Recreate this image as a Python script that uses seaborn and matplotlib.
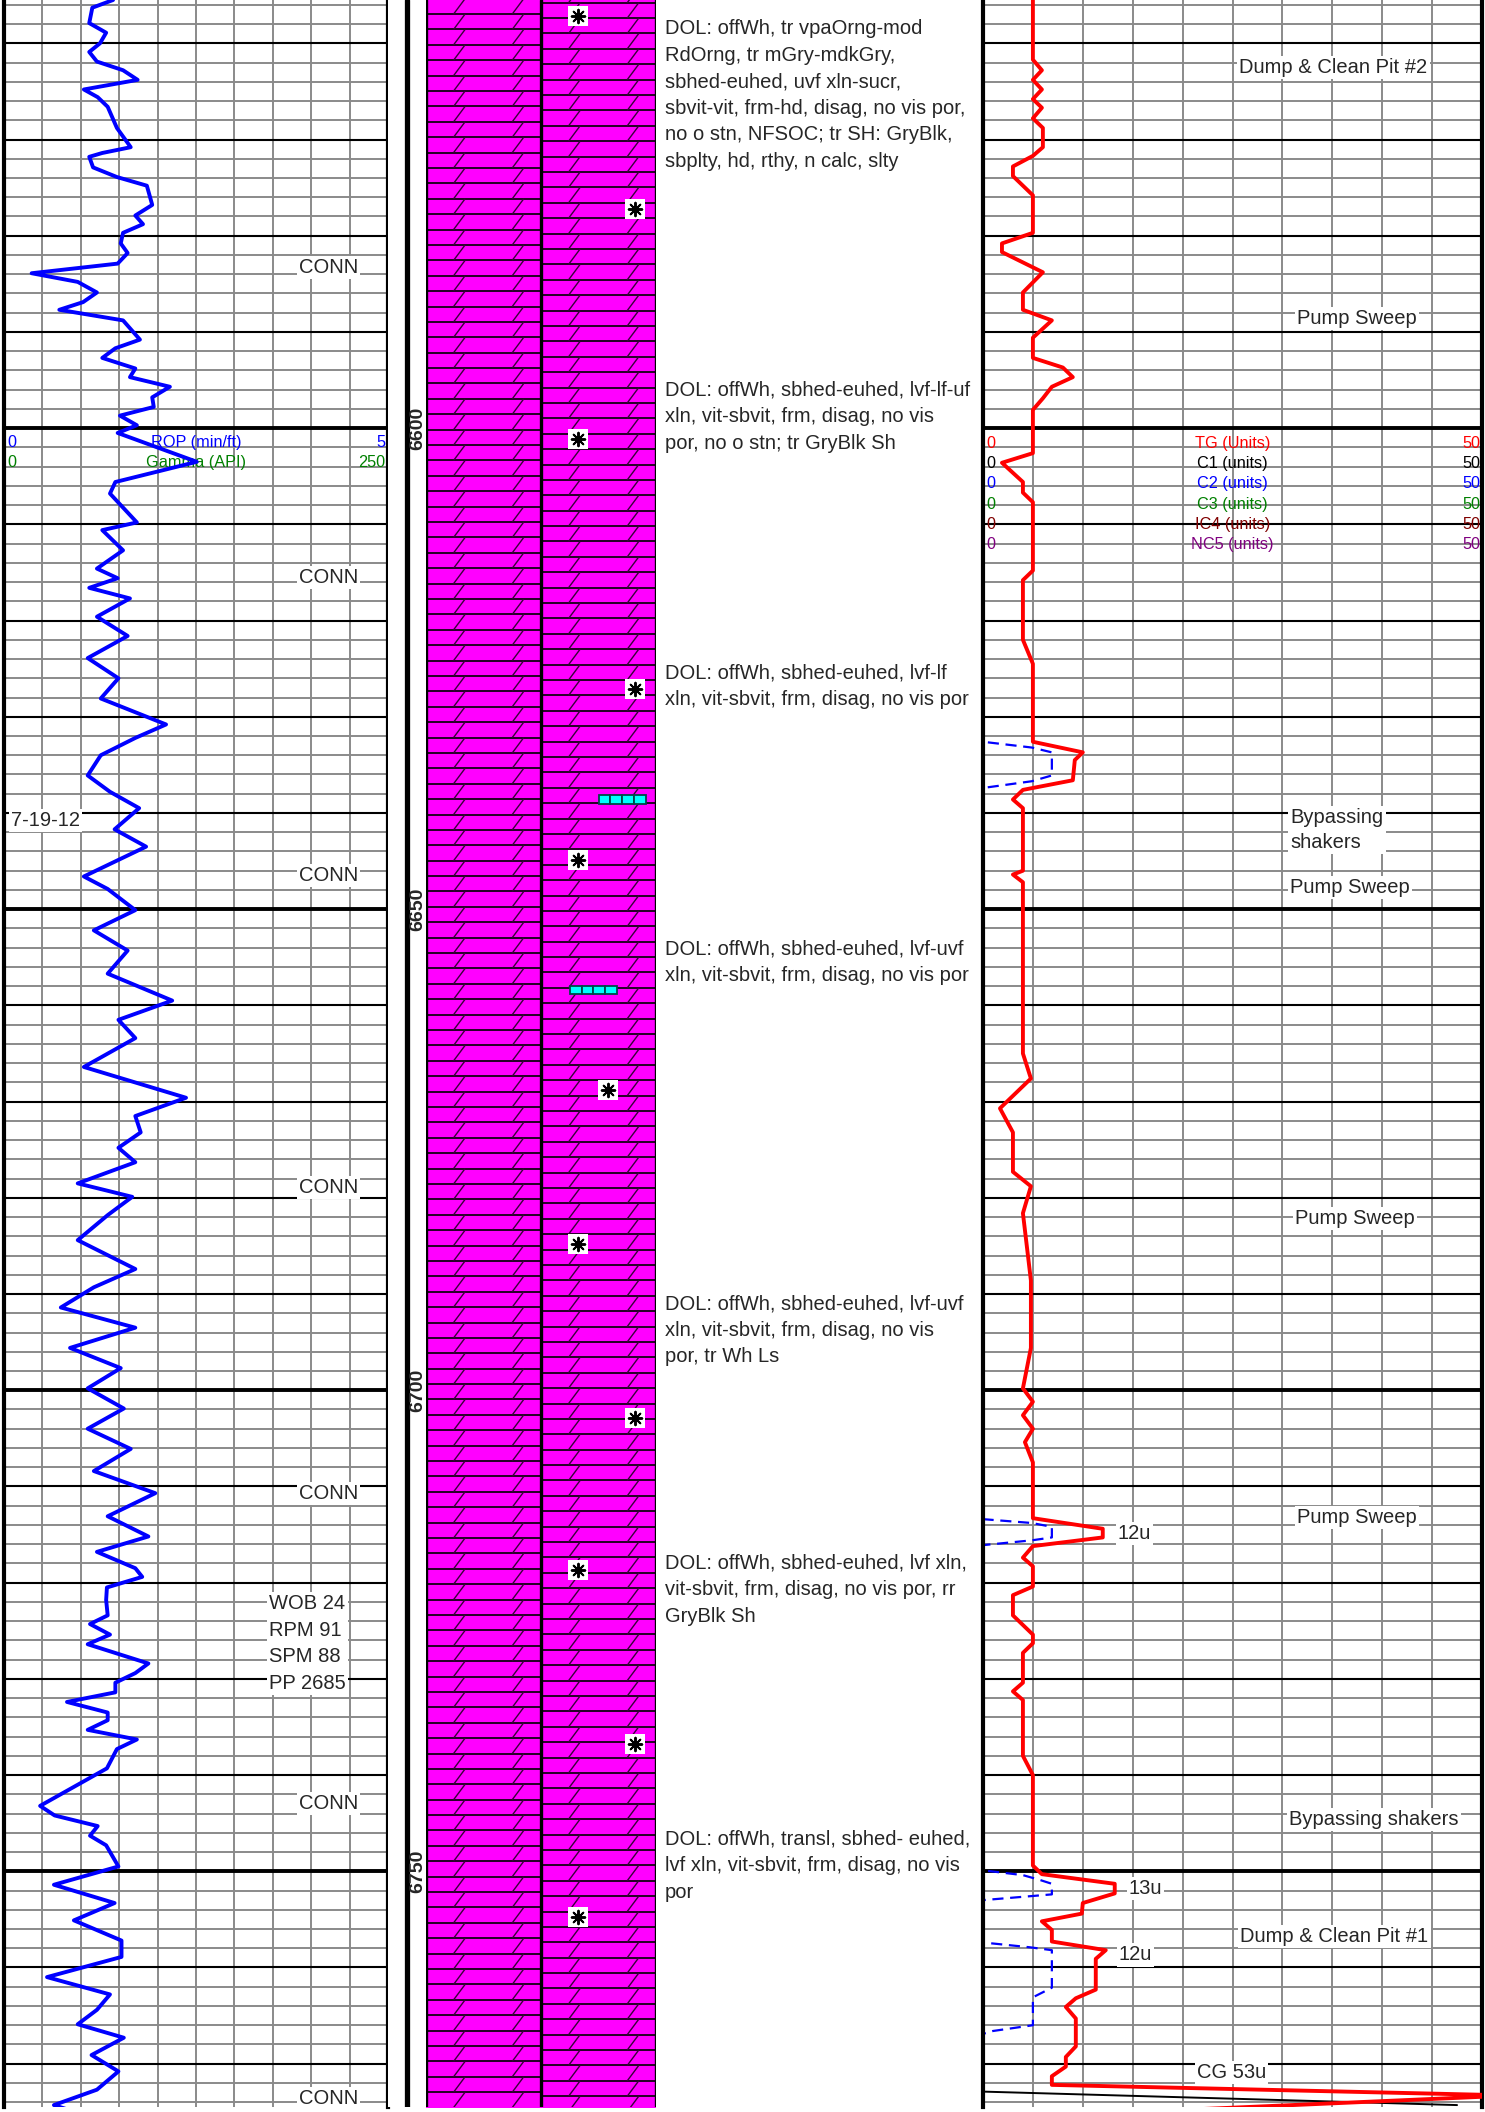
import numpy as np
import matplotlib
matplotlib.use('Agg')
import matplotlib.pyplot as plt
from matplotlib.collections import LineCollection
from matplotlib.patches import Rectangle
import seaborn as sns

# depth window of the log (ft)
top_depth = 6555.5
base_depth = 6774.5

# ROP curve (min/ft)
rop_depth = [6555.5, 6556.3, 6557.9, 6558.9, 6560.0, 6560.9, 6561.9, 6562.8, 6563.8, 6564.8,
             6565.6, 6566.6, 6567.7, 6568.8, 6570.8, 6571.4, 6571.8, 6572.9, 6573.9, 6574.8,
             6576.8, 6577.9, 6578.8, 6579.7, 6580.8, 6581.8, 6582.9, 6583.9, 6584.8, 6585.9,
             6586.9, 6587.7, 6588.8, 6590.8, 6591.7, 6592.7, 6593.8, 6594.7, 6595.7, 6596.8,
             6597.8, 6598.7, 6599.7, 6600.5, 6603.5, 6605.6, 6606.8, 6609.8, 6610.6, 6612.7,
             6614.6, 6615.6, 6616.6, 6617.7, 6619.6, 6621.6, 6623.9, 6626.0, 6628.1, 6630.8,
             6632.2, 6634.0, 6636.1, 6637.8, 6639.5, 6641.7, 6643.5, 6646.6, 6647.9, 6650.1,
             6652.2, 6654.3, 6656.7, 6659.5, 6661.5, 6663.4, 6666.4, 6669.6, 6671.5, 6673.2,
             6674.8, 6676.3, 6678.5, 6679.9, 6681.8, 6684.4, 6687.4, 6689.3, 6691.4, 6693.5,
             6695.6, 6697.7, 6699.8, 6701.9, 6704.0, 6706.1, 6708.4, 6710.7, 6713.1, 6715.2,
             6716.8, 6718.5, 6719.4, 6720.5, 6721.8, 6723.4, 6724.3, 6725.4, 6726.4, 6728.4,
             6729.4, 6730.4, 6731.4, 6732.4, 6733.5, 6734.3, 6735.3, 6736.3, 6737.3, 6739.3,
             6743.2, 6744.2, 6745.3, 6746.3, 6747.3, 6749.5, 6751.4, 6753.3, 6755.1, 6757.2,
             6758.9, 6761.0, 6762.8, 6764.4, 6765.9, 6767.3, 6769.1, 6770.8, 6772.7, 6774.3, 6775.1]
rop_min_ft = [1.42, 1.15, 1.11, 1.33, 1.25, 1.11, 1.21, 1.55, 1.74, 1.04,
              1.22, 1.35, 1.41, 1.47, 1.65, 1.28, 1.11, 1.16, 1.47, 1.86,
              1.93, 1.71, 1.81, 1.55, 1.52, 1.61, 1.48, 0.36, 0.96, 1.21,
              1.03, 0.72, 1.55, 1.77, 1.45, 1.28, 1.71, 1.64, 2.16, 1.93,
              1.95, 1.51, 1.73, 1.48, 2.51, 1.45, 1.38, 1.73, 1.28, 1.55,
              1.21, 1.48, 1.11, 1.64, 1.21, 1.61, 1.09, 1.49, 1.26, 2.11,
              1.71, 1.26, 1.09, 1.38, 1.76, 1.44, 1.85, 1.04, 1.35, 1.71,
              1.17, 1.61, 1.35, 2.19, 1.49, 1.71, 1.04, 2.37, 1.71, 1.78,
              1.49, 1.71, 0.96, 1.67, 1.35, 0.96, 1.71, 1.17, 0.74, 1.71,
              0.86, 1.52, 1.09, 1.56, 1.09, 1.65, 1.17, 1.97, 1.35, 1.88,
              1.21, 1.71, 1.80, 1.34, 1.33, 1.35, 1.12, 1.38, 1.09, 1.88,
              1.71, 1.45, 1.45, 0.82, 1.35, 1.35, 1.09, 1.73, 1.47, 1.34,
              0.47, 0.66, 1.22, 1.12, 1.33, 1.49, 0.65, 1.44, 0.91, 1.53,
              1.53, 0.56, 1.38, 1.21, 0.96, 1.56, 1.14, 1.49, 1.21, 0.65, 0.96]

# total gas (units)
tg_depth = [6555.5, 6561.7, 6562.8, 6563.8, 6564.8, 6565.8, 6566.7, 6567.8, 6568.8, 6570.8,
            6571.7, 6572.8, 6573.8, 6575.8, 6579.7, 6580.8, 6581.7, 6583.8, 6585.9, 6587.7,
            6588.8, 6590.6, 6592.7, 6593.7, 6594.7, 6595.7, 6596.9, 6598.1, 6602.6, 6603.6,
            6605.6, 6606.7, 6607.7, 6614.8, 6615.8, 6622.0, 6624.5, 6632.6, 6633.7, 6634.5,
            6636.6, 6637.6, 6638.6, 6639.5, 6646.0, 6646.4, 6647.2, 6665.0, 6667.6, 6670.7,
            6673.2, 6677.3, 6678.8, 6681.6, 6688.6, 6695.6, 6699.8, 6701.2, 6702.6, 6704.0,
            6705.4, 6707.5, 6713.3, 6714.4, 6715.3, 6716.2, 6717.4, 6718.3, 6720.4, 6721.3,
            6723.4, 6725.4, 6726.3, 6727.3, 6730.4, 6731.3, 6732.2, 6738.0, 6740.0, 6749.4,
            6750.3, 6751.3, 6752.3, 6753.3, 6754.4, 6755.2, 6756.1, 6757.3, 6758.2, 6759.1,
            6762.3, 6763.2, 6764.1, 6765.3, 6768.2, 6769.3, 6770.3, 6771.3, 6772.2, 6773.3, 6774.8]
tg_units = [5.0, 5.0, 5.9, 5.0, 5.9, 5.0, 5.9, 5.0, 6.0, 6.0,
            5.0, 3.0, 3.0, 5.0, 5.0, 1.9, 1.9, 6.0, 4.0, 4.0,
            6.9, 5.0, 5.0, 8.0, 9.0, 6.9, 6.0, 5.0, 5.0, 1.9,
            4.0, 4.0, 5.0, 5.0, 4.0, 4.0, 5.0, 5.0, 10.0, 9.2,
            9.0, 4.0, 3.0, 4.0, 4.0, 3.0, 4.0, 4.0, 4.8, 1.7,
            3.0, 3.0, 4.8, 4.0, 4.8, 4.8, 4.0, 5.0, 4.0, 5.0,
            4.2, 5.0, 5.0, 12.0, 12.0, 5.0, 4.0, 5.0, 5.0, 3.0,
            3.0, 5.0, 5.0, 4.0, 4.0, 3.0, 4.0, 4.0, 5.0, 5.0,
            5.9, 13.2, 13.2, 10.0, 9.9, 5.9, 6.9, 6.9, 12.3, 11.3,
            11.3, 9.3, 8.3, 9.3, 9.3, 8.3, 8.3, 6.9, 6.9, 53.0, 20.0]

# C2 (units), dashed blue
c2_depth = [6555.5, 6632.6, 6633.2, 6633.7, 6636.1, 6636.7, 6637.4, 6713.4, 6713.8, 6714.2,
            6715.3, 6715.6, 6716.1, 6749.9, 6750.4, 6750.9, 6751.3, 6752.4, 6753.0, 6757.4,
            6757.9, 6758.2, 6762.1, 6763.1, 6766.0, 6766.6, 6766.9, 6774.5]
c2_units = [0.0, 0.0, 4.9, 6.9, 6.9, 4.9, 0.0, 0.0, 4.9, 6.9,
            6.9, 4.9, 0.0, 0.0, 4.0, 5.7, 6.9, 6.9, 0.0, 0.0,
            4.7, 6.9, 6.9, 5.0, 5.0, 1.0, 0.0, 0.0]

# C1 (units) at the connection gas
c1_depth = [6772.9, 6774.3]
c1_units = [0.0, 47.5]

# lithology
litho_top = [6555.5]
litho_base = [6775.0]
show_depth = [6557.2, 6577.2, 6601.1, 6627.1, 6644.9, 6668.8, 6684.8, 6702.9, 6718.7, 6736.8, 6754.7]
show_pos = [0.32, 0.82, 0.32, 0.82, 0.32, 0.58, 0.32, 0.82, 0.32, 0.82, 0.32]
chert_depth = [6638.6, 6658.4]
chert_pos = [0.50, 0.25]

# sample descriptions
desc_depth = [6557.5, 6595.1, 6624.5, 6653.1, 6690.0, 6717.0, 6745.7]
desc_text = [
    "DOL: offWh, tr vpaOrng-mod\nRdOrng, tr mGry-mdkGry,\nsbhed-euhed, uvf xln-sucr,\n"
    "sbvit-vit, frm-hd, disag, no vis por,\nno o stn, NFSOC; tr SH: GryBlk,\nsbplty, hd, rthy, n calc, slty",
    "DOL: offWh, sbhed-euhed, lvf-lf-uf\nxln, vit-sbvit, frm, disag, no vis\npor, no o stn; tr GryBlk Sh",
    "DOL: offWh, sbhed-euhed, lvf-lf\nxln, vit-sbvit, frm, disag, no vis por",
    "DOL: offWh, sbhed-euhed, lvf-uvf\nxln, vit-sbvit, frm, disag, no vis por",
    "DOL: offWh, sbhed-euhed, lvf-uvf\nxln, vit-sbvit, frm, disag, no vis\npor, tr Wh Ls",
    "DOL: offWh, sbhed-euhed, lvf xln,\nvit-sbvit, frm, disag, no vis por, rr\nGryBlk Sh",
    "DOL: offWh, transl, sbhed- euhed,\nlvf xln, vit-sbvit, frm, disag, no vis\npor",
]

# remarks
conn_depth = [6583.3, 6615.5, 6646.5, 6678.9, 6710.7, 6743.0, 6773.6]
date_depth = 6640.8
date_text = "7-19-12"
param_depth = 6726.3
param_text = "WOB 24\nRPM 91\nSPM 88\nPP 2685"
gas_note_depth = [6562.5, 6588.6, 6641.8, 6647.7, 6682.1, 6713.2, 6714.9, 6744.6, 6751.8, 6756.8, 6758.7, 6770.9]
gas_note_text = ["Dump & Clean Pit #2", "Pump Sweep", "Bypassing\nshakers", "Pump Sweep", "Pump Sweep",
                 "Pump Sweep", "12u", "Bypassing shakers", "13u", "Dump & Clean Pit #1", "12u", "CG 53u"]
depth_labels = [6600, 6650, 6700, 6750]
gas_names = ["TG (Units)", "C1 (units)", "C2 (units)", "C3 (units)", "IC4 (units)", "NC5 (units)"]
gas_colors = ["#FF0000", "#000000", "#0000FF", "#008000", "#800000", "#800080"]

sns.set_theme(style="white")
plt.rcParams['font.family'] = ['Liberation Sans', 'DejaVu Sans']

W, H = 1485, 2112
PLOT_H = 2107
fig = plt.figure(figsize=(W / 100, H / 100), dpi=100)
fig.patch.set_facecolor('white')

NOTE_FS = 14.5    # remarks and descriptions
HEAD_FS = 11.7    # curve headers


def add_track(x0, x1):
    ax = fig.add_axes([x0 / W, (H - PLOT_H) / H, (x1 - x0) / W, PLOT_H / H])
    ax.set_facecolor('white')
    ax.tick_params(left=False, bottom=False, labelleft=False, labelbottom=False)
    for s in ax.spines.values():
        s.set_visible(False)
    return ax


def depth_grid(ax, xmax, xstep):
    for x in np.arange(xstep, xmax, xstep):
        ax.axvline(x, color='#8a8a8a', lw=1.4, zorder=0.8)
    for d in np.arange(6556, 6776, 2):
        if d % 50 == 0:
            ax.axhline(d, color='black', lw=2.8, zorder=1)
        elif d % 10 == 0:
            ax.axhline(d, color='black', lw=1.5, zorder=1)
        else:
            ax.axhline(d, color='#8a8a8a', lw=1.4, zorder=0.9)
    for side in ('left', 'right'):
        ax.spines[side].set_visible(True)
        ax.spines[side].set_linewidth(3)
        ax.spines[side].set_color('black')


note_box = dict(facecolor='white', edgecolor='none', pad=1.5)

# ---- ROP track ----
ax_rop = add_track(4, 388)
depth_grid(ax_rop, 5, 0.5)
sns.lineplot(x=rop_min_ft, y=rop_depth, orient='y', sort=False, estimator=None,
             color='#0000FF', lw=2.8, ax=ax_rop, zorder=3)
ax_rop.set(xlim=(0, 5), ylim=(base_depth, top_depth), xlabel='', ylabel='')
ax_rop.text(0.04, 6601.5, '0', color='#0000FF', fontsize=HEAD_FS, ha='left', va='center', zorder=2)
ax_rop.text(2.5, 6601.5, 'ROP (min/ft)', color='#0000FF', fontsize=HEAD_FS, ha='center', va='center', zorder=2)
ax_rop.text(4.97, 6601.5, '5', color='#0000FF', fontsize=HEAD_FS, ha='right', va='center', zorder=2)
ax_rop.text(0.04, 6603.6, '0', color='#008000', fontsize=HEAD_FS, ha='left', va='center', zorder=2)
ax_rop.text(2.5, 6603.6, 'Gamma (API)', color='#008000', fontsize=HEAD_FS, ha='center', va='center', zorder=2)
ax_rop.text(4.97, 6603.6, '250', color='#008000', fontsize=HEAD_FS, ha='right', va='center', zorder=2)
for d in conn_depth:
    ax_rop.text(3.84, d, 'CONN', fontsize=NOTE_FS, ha='left', va='center', bbox=note_box, zorder=4, clip_on=True)
ax_rop.text(0.09, date_depth, date_text, fontsize=NOTE_FS, ha='left', va='center', bbox=note_box, zorder=4)
ax_rop.text(3.45, param_depth, param_text, fontsize=NOTE_FS, ha='left', va='center', linespacing=1.5,
            bbox=note_box, zorder=4)

# ---- depth track ----
ax_dep = add_track(388, 426)
ax_dep.set(xlim=(0, 1), ylim=(base_depth, top_depth))
ax_dep.axvline(0.5, color='black', lw=3.8)
for d in depth_labels:
    ax_dep.text(0.77, d, str(d), rotation=90, fontsize=14, fontweight='bold', ha='center', va='center')

# ---- lithology columns ----
ax_lith = add_track(426, 656)
ax_lith.set(xlim=(0, 2), ylim=(base_depth, top_depth))
for t, b in zip(litho_top, litho_base):
    ax_lith.fill_betweenx([t, b], 0, 2, color='#FF00FF', lw=0, zorder=0.5)
rows, slashes = [], []
for c, start in [(0, 6556.96), (1, 6555.78)]:
    for d in np.arange(start - 1.6, base_depth + 1.6, 1.6):
        rows.append([(c, d), (c + 1, d)])
        for s in (0.24, 0.75):
            slashes.append([(c + s, d + 1.6), (c + s + 0.1, d)])
ax_lith.add_collection(LineCollection(rows, colors='black', linewidths=1.2, zorder=1))
ax_lith.add_collection(LineCollection(slashes, colors='#3a003a', linewidths=1.0, zorder=1))
for x in (0, 1, 2):
    ax_lith.axvline(x, color='black', lw=2.4, zorder=4)
sx = [1 + p for p in show_pos]
ax_lith.scatter(sx, show_depth, marker='s', s=190, c='white', linewidths=0, zorder=5)
ax_lith.scatter(sx, show_depth, marker=(8, 2, 0), s=95, c='black', linewidths=1.4, zorder=6)
for d, p in zip(chert_depth, chert_pos):
    for k in range(4):
        ax_lith.add_patch(Rectangle((1 + p + k * 0.103, d - 0.42), 0.103, 0.84, facecolor='#00FFFF',
                                    edgecolor='#004848', lw=1.3, zorder=5))

# ---- descriptions ----
ax_desc = add_track(656, 983)
ax_desc.set(xlim=(0, 1), ylim=(base_depth, top_depth))
for d, t in zip(desc_depth, desc_text):
    ax_desc.text(0.028, d, t, fontsize=NOTE_FS, ha='left', va='top', linespacing=1.5)

# ---- gas track ----
ax_gas = add_track(983, 1482)
depth_grid(ax_gas, 50, 5)
sns.lineplot(x=c2_units, y=c2_depth, orient='y', sort=False, estimator=None,
             color='#0000FF', lw=1.6, linestyle=(0, (5, 3)), ax=ax_gas, zorder=2)
sns.lineplot(x=c1_units, y=c1_depth, orient='y', sort=False, estimator=None,
             color='black', lw=1.4, ax=ax_gas, zorder=2)
sns.lineplot(x=tg_units, y=tg_depth, orient='y', sort=False, estimator=None,
             color='#FF0000', lw=2.8, ax=ax_gas, zorder=3)
ax_gas.set(xlim=(0, 50), ylim=(base_depth, top_depth), xlabel='', ylabel='')
for i, (name, col) in enumerate(zip(gas_names, gas_colors)):
    d = 6601.6 + i * 2.1
    ax_gas.text(0.3, d, '0', color=col, fontsize=HEAD_FS, ha='left', va='center', zorder=2)
    ax_gas.text(25, d, name, color=col, fontsize=HEAD_FS, ha='center', va='center', zorder=2)
    ax_gas.text(49.8, d, '50', color=col, fontsize=HEAD_FS, ha='right', va='center', zorder=2)
gas_note_x = [25.7, 31.5, 30.8, 30.8, 31.3, 31.5, 13.5, 30.7, 14.6, 25.8, 13.6, 21.4]
for d, t, x in zip(gas_note_depth, gas_note_text, gas_note_x):
    ax_gas.text(x, d, t, fontsize=NOTE_FS, ha='left', va='center', linespacing=1.4, bbox=note_box, zorder=4)

fig.savefig('out.png', dpi=100, facecolor='white')
